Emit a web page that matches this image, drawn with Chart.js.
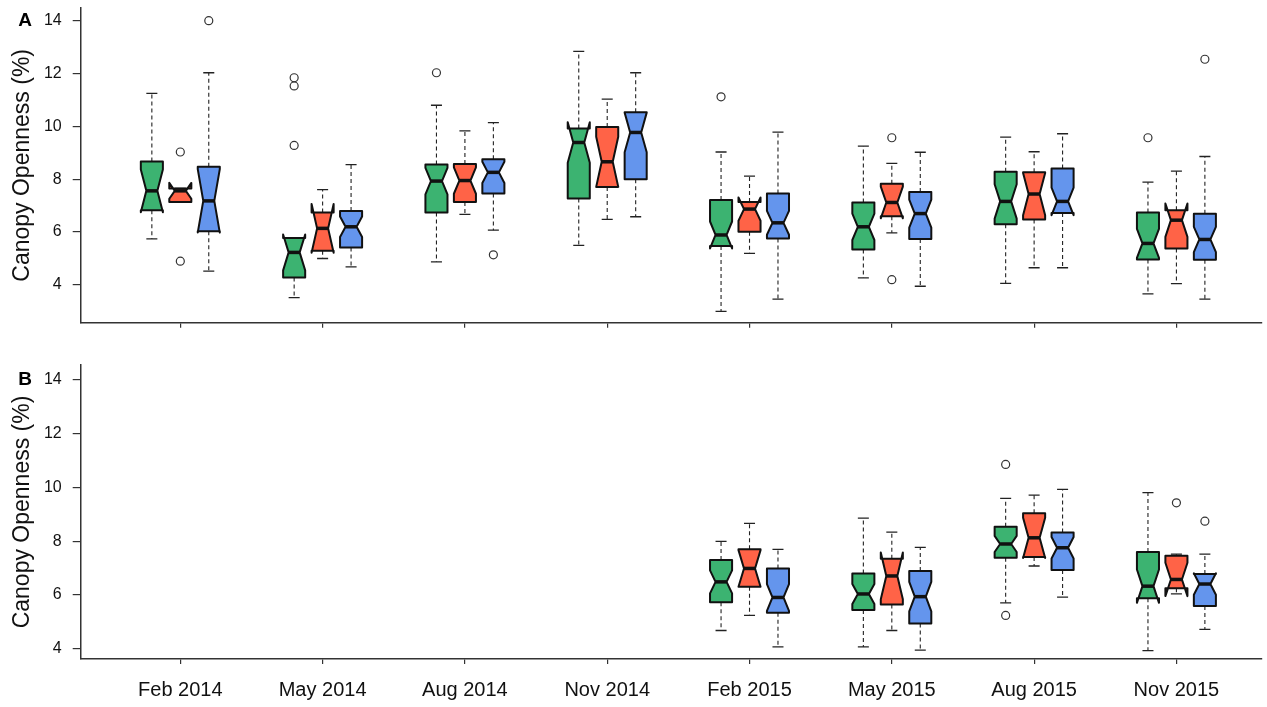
<!DOCTYPE html>
<html>
<head>
<meta charset="utf-8">
<script src="https://cdn.jsdelivr.net/npm/chart.js@4.4.1/dist/chart.umd.min.js"></script>
<style>
  body { margin: 0; background: #fff; }
  #wrap { position: relative; width: 1267px; height: 707px; }
  canvas { position: absolute; left: 0; }
</style>
</head>
<body>
<div id="wrap">
  <canvas id="panelA" width="1267" height="345" style="top:0"></canvas>
  <canvas id="panelB" width="1267" height="362" style="top:345px"></canvas>
</div>
<script>
const months = ['Feb 2014', 'May 2014', 'Aug 2014', 'Nov 2014', 'Feb 2015', 'May 2015', 'Aug 2015', 'Nov 2015'];
const yTicks = [4, 6, 8, 10, 12, 14];

// boxes are [min, q1, median, q3, max]; notch = half height of the notch around the median
// outliers are [month index, value]
const greenA = [
  [5.74, 6.83, 7.56, 8.67, 11.25],
  [3.52, 4.28, 5.23, 5.78, 5.78],
  [4.87, 6.74, 7.93, 8.56, 10.80],
  [5.50, 7.27, 9.39, 9.92, 12.84],
  [3.00, 5.47, 5.89, 7.21, 9.03],
  [4.27, 5.34, 6.20, 7.12, 9.25],
  [4.06, 6.30, 7.16, 8.28, 9.59],
  [3.66, 4.96, 5.57, 6.74, 7.89]
];
const greenNotchA = [0.81, 0.68, 0.5, 0.77, 0.51, 0.5, 0.65, 0.55];
const greenOutA = [[1, 11.84], [1, 11.53], [1, 9.28], [2, 12.03], [4, 11.12], [7, 9.57]];

const orangeA = [
  [7.14, 7.14, 7.56, 7.65, 7.65],
  [5.00, 5.29, 6.14, 6.74, 7.61],
  [6.67, 7.14, 7.95, 8.58, 9.83],
  [6.48, 7.71, 8.66, 9.98, 11.03],
  [5.19, 6.01, 6.87, 7.14, 8.12],
  [5.97, 6.60, 7.12, 7.83, 8.60],
  [4.65, 6.48, 7.44, 8.26, 9.04],
  [4.05, 5.38, 6.45, 6.83, 8.31]
];
const orangeNotchA = [0.30, 0.92, 0.5, 0.95, 0.44, 0.6, 0.8, 0.63];
const orangeOutA = [[0, 9.03], [0, 4.90], [5, 9.57], [5, 4.20]];

const blueA = [
  [4.52, 6.03, 7.18, 8.47, 12.03],
  [4.68, 5.42, 6.20, 6.80, 8.55],
  [6.07, 7.46, 8.26, 8.76, 10.14],
  [6.58, 8.00, 9.77, 10.53, 12.03],
  [3.46, 5.76, 6.35, 7.46, 9.78],
  [3.95, 5.74, 6.70, 7.52, 9.02],
  [4.65, 6.72, 7.16, 8.41, 9.72],
  [3.46, 4.95, 5.72, 6.69, 8.86]
];
const blueNotchA = [1.2, 0.39, 0.4, 0.75, 0.45, 0.53, 0.52, 0.48];
const blueOutA = [[0, 14.0], [2, 5.14], [7, 12.54]];

const greenB = [null, null, null, null,
  [4.68, 5.73, 6.49, 7.30, 8.00],
  [4.07, 5.44, 6.04, 6.80, 8.86],
  [5.71, 7.39, 7.90, 8.54, 9.60],
  [3.93, 5.88, 6.33, 7.60, 9.81]
];
const greenNotchB = [null, null, null, null, 0.43, 0.37, 0.3, 0.62];
const greenOutB = [[6, 10.86], [6, 5.24]];

const orangeB = [null, null, null, null,
  [5.24, 6.31, 6.99, 7.70, 8.67],
  [4.68, 5.65, 6.71, 7.35, 8.34],
  [7.08, 7.42, 8.13, 9.04, 9.72],
  [6.04, 6.25, 6.58, 7.46, 7.52]
];
const orangeNotchB = [null, null, null, null, 0.68, 0.87, 0.75, 0.62];
const orangeOutB = [[7, 9.43]];

const blueB = [null, null, null, null,
  [4.07, 5.34, 5.91, 6.99, 7.70],
  [3.95, 4.94, 5.94, 6.89, 7.77],
  [5.92, 6.93, 7.76, 8.33, 9.93],
  [4.72, 5.59, 6.41, 6.78, 7.52]
];
const blueNotchB = [null, null, null, null, 0.5, 0.55, 0.4, 0.4];
const blueOutB = [[7, 8.75]];

const COLORS = ['#3CB371', '#FF6347', '#6495ED'];
const OFFSETS = [-0.2, 0, 0.2];
const BOX_W = 0.155;
const FONT = "'Liberation Sans', Arial, Helvetica, sans-serif";

// draws the notched boxes + whiskers from the data through the chart scales
function boxLayer(groups, letter, letterY) {
  return {
    id: 'notchBoxes',
    beforeDatasetsDraw(chart) {
      const ctx = chart.ctx;
      const x = chart.scales.x, y = chart.scales.y;
      const half = (x.getPixelForValue(1) - x.getPixelForValue(0)) * BOX_W / 2;
      const py = v => y.getPixelForValue(v);
      groups.forEach((g, s) => {
        g.stats.forEach((b, i) => {
          if (!b) return;
          const [mn, q1, md, q3, mx] = b;
          const lo = md - g.notch[i], hi = md + g.notch[i];
          const cx = x.getPixelForValue(i + 1 + OFFSETS[s]);
          const L = cx - half, R = cx + half, Li = cx - half / 2, Ri = cx + half / 2;
          ctx.save();
          // whiskers
          ctx.strokeStyle = '#222';
          ctx.lineWidth = 1.1;
          ctx.setLineDash([4, 3]);
          ctx.beginPath();
          ctx.moveTo(cx, py(q3)); ctx.lineTo(cx, py(mx));
          ctx.moveTo(cx, py(q1)); ctx.lineTo(cx, py(mn));
          ctx.stroke();
          ctx.setLineDash([]);
          ctx.lineWidth = 1.3;
          ctx.beginPath();
          ctx.moveTo(cx - half / 2, py(mx)); ctx.lineTo(cx + half / 2, py(mx));
          ctx.moveTo(cx - half / 2, py(mn)); ctx.lineTo(cx + half / 2, py(mn));
          ctx.stroke();
          // notched box
          ctx.beginPath();
          ctx.moveTo(L, py(q1)); ctx.lineTo(L, py(lo)); ctx.lineTo(Li, py(md));
          ctx.lineTo(L, py(hi)); ctx.lineTo(L, py(q3));
          ctx.lineTo(R, py(q3)); ctx.lineTo(R, py(hi)); ctx.lineTo(Ri, py(md));
          ctx.lineTo(R, py(lo)); ctx.lineTo(R, py(q1));
          ctx.closePath();
          ctx.fillStyle = g.color;
          ctx.fill();
          ctx.strokeStyle = '#111';
          ctx.lineWidth = 2;
          ctx.lineJoin = 'round';
          ctx.stroke();
          // median
          ctx.beginPath();
          ctx.moveTo(Li, py(md)); ctx.lineTo(Ri, py(md));
          ctx.lineWidth = 3.5;
          ctx.stroke();
          ctx.restore();
        });
      });
    },
    afterDraw(chart) {
      const ctx = chart.ctx;
      ctx.save();
      ctx.font = 'bold 19px ' + FONT;
      ctx.fillStyle = '#000';
      ctx.textAlign = 'center';
      ctx.textBaseline = 'middle';
      ctx.fillText(letter, 25, letterY);
      ctx.restore();
    }
  };
}

function makePanel(id, groups, opt) {
  const datasets = groups.map((g, s) => ({
    data: g.out.map(([i, v]) => ({ x: i + 1 + OFFSETS[s], y: v })),
    pointStyle: 'circle',
    pointRadius: 4,
    pointBackgroundColor: 'rgba(0,0,0,0)',
    pointBorderColor: '#333',
    pointBorderWidth: 1.2,
    showLine: false,
    clip: false
  }));
  new Chart(document.getElementById(id), {
    type: 'scatter',
    data: { datasets },
    plugins: [boxLayer(groups, opt.letter, opt.letterY)],
    options: {
      responsive: false,
      animation: false,
      devicePixelRatio: 1,
      layout: { padding: { top: opt.top, left: 0, right: 0, bottom: 0 } },
      plugins: { legend: { display: false }, tooltip: { enabled: false } },
      scales: {
        x: {
          type: 'linear',
          min: 0.3,
          max: 8.6,
          afterBuildTicks: s => { s.ticks = months.map((m, i) => ({ value: i + 1 })); },
          afterFit: s => { s.height = opt.xHeight; s.paddingLeft = 0; s.paddingRight = 0; },
          ticks: {
            display: opt.showLabels,
            autoSkip: false,
            maxRotation: 0,
            padding: 14,
            color: '#111',
            font: { family: FONT, size: 20 },
            callback: (v, i) => months[i]
          },
          grid: { drawOnChartArea: false, drawTicks: true, tickLength: 5, color: '#333', lineWidth: 1.2 },
          border: { display: true, color: '#333', width: 1.5 }
        },
        y: {
          type: 'linear',
          min: opt.yMin,
          max: opt.yMax,
          afterBuildTicks: s => { s.ticks = yTicks.map(v => ({ value: v })); },
          afterFit: s => { s.width = 80.7; s.paddingTop = 0; s.paddingBottom = 0; },
          ticks: {
            padding: 11,
            color: '#111',
            font: { family: FONT, size: 16 },
            callback: v => v
          },
          grid: { drawOnChartArea: false, drawTicks: true, tickLength: 8, color: '#333', lineWidth: 1.2 },
          border: { display: true, color: '#333', width: 1.5 },
          title: {
            display: true,
            text: 'Canopy Openness (%)',
            color: '#111',
            font: { family: FONT, size: 23 },
            padding: { top: 9, bottom: 0 }
          }
        }
      }
    }
  });
}

makePanel('panelA', [
  { color: COLORS[0], stats: greenA, notch: greenNotchA, out: greenOutA },
  { color: COLORS[1], stats: orangeA, notch: orangeNotchA, out: orangeOutA },
  { color: COLORS[2], stats: blueA, notch: blueNotchA, out: blueOutA }
], { letter: 'A', letterY: 20.5, top: 8, xHeight: 22.3, yMin: 2.57, yMax: 14.48, showLabels: false });

makePanel('panelB', [
  { color: COLORS[0], stats: greenB, notch: greenNotchB, out: greenOutB },
  { color: COLORS[1], stats: orangeB, notch: orangeNotchB, out: orangeOutB },
  { color: COLORS[2], stats: blueB, notch: blueNotchB, out: blueOutB }
], { letter: 'B', letterY: 35, top: 20, xHeight: 48, yMin: 3.62, yMax: 14.56, showLabels: true });
</script>
</body>
</html>
